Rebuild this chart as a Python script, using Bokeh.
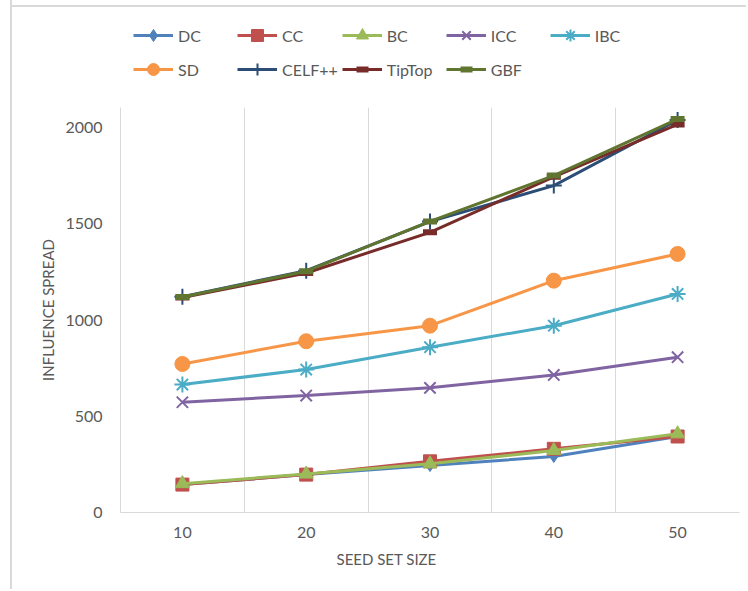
from bokeh.plotting import figure
from bokeh.layouts import column
from bokeh.models import FixedTicker, Legend, LegendItem, Range1d, Title
from bokeh.embed import file_html
from bokeh.resources import INLINE

# ---- data ----
seed_sizes = [10, 20, 30, 40, 50]
dc = [145, 197, 244, 291, 395]
cc = [145, 197, 266, 331, 395]
bc = [150, 200, 253, 322, 409]
icc = [573, 608, 648, 715, 807]
ibc = [665, 743, 859, 971, 1136]
sd = [772, 890, 971, 1205, 1344]
celf = [1122, 1257, 1512, 1699, 2040]
tiptop = [1117, 1245, 1456, 1745, 2017]
gbf = [1120, 1254, 1513, 1751, 2045]
y_ticks = [0, 500, 1000, 1500, 2000]
series_names = ["DC", "CC", "BC", "ICC", "IBC", "SD", "CELF++", "TipTop", "GBF"]
series_values = [dc, cc, bc, icc, ibc, sd, celf, tiptop, gbf]

# ---- styles ----
colors = ["#4F81BD", "#C0504D", "#9BBB59", "#8064A2", "#4BACC6",
          "#F79646", "#2C4D75", "#772C2A", "#5F7530"]
markers = ["diamond", "square", "triangle", "x", "asterisk",
           "circle", "cross", "dash", "dash"]
msizes = [12, 13, 14, 16, 16, 15, 16, 14, 14]
mlw = [1, 1, 1, 2, 2, 1, 2, 6, 6]
FONT = "Lato"
TXT = "#595959"
GRID = "#D9D9D9"
LEFT_LINE = "linear-gradient(#d9d9d9, #d9d9d9) 10px 0 / 2px 100% no-repeat"
TOP_LINE = "linear-gradient(#d9d9d9, #d9d9d9) 10px 5px / 100% 2px no-repeat"


def add_series(fig):
    items = []
    for name, vals, c, m, s, lw in zip(series_names, series_values, colors,
                                       markers, msizes, mlw):
        lr = fig.line(seed_sizes, vals, line_color=c, line_width=3)
        if m in ("x", "asterisk", "cross", "dash"):
            sr = fig.scatter(seed_sizes, vals, marker=m, size=s, line_color=c,
                             line_width=lw, fill_color=c)
        else:
            sr = fig.scatter(seed_sizes, vals, marker=m, size=s, line_color=c,
                             fill_color=c, line_width=1)
        items.append(LegendItem(label=name, renderers=[lr, sr]))
    return items


# ---- legend strip (top of chart area) ----
leg = figure(width=746, height=107, output_backend="svg", toolbar_location=None,
             x_range=Range1d(0, 1), y_range=Range1d(0, 1),
             x_axis_location=None, y_axis_location=None, min_border=0)
leg.grid.visible = False
leg.outline_line_color = None
leg.border_fill_color = None
leg.background_fill_color = None
leg.styles = {"background": LEFT_LINE + ", " + TOP_LINE + ", white"}
leg_items = add_series(leg)
legend = Legend(items=leg_items, ncols=5, orientation="horizontal", location=(13, 23),
                border_line_color=None, background_fill_alpha=0,
                label_text_font=FONT, label_text_font_size="16px",
                label_text_color=TXT, glyph_width=40, glyph_height=30,
                label_height=30, label_standoff=5, label_width=55, spacing=4,
                padding=0, margin=0)
leg.add_layout(legend, "center")

# ---- main plot ----
p = figure(width=746, height=482, output_backend="svg", toolbar_location=None,
           x_range=Range1d(5, 55), y_range=Range1d(0, 2105),
           min_border_left=120, min_border_right=7, min_border_top=0,
           min_border_bottom=77)
p.frame_width = 619
p.frame_height = 405
p.border_fill_color = None
p.background_fill_color = "white"
p.outline_line_color = None
p.styles = {"background": LEFT_LINE + ", white"}
add_series(p)

p.xaxis.ticker = FixedTicker(ticks=seed_sizes)
p.yaxis.ticker = FixedTicker(ticks=y_ticks)
p.xgrid.ticker = FixedTicker(ticks=[s + 5 for s in seed_sizes])
p.xgrid.grid_line_color = GRID
p.ygrid.visible = False
for ax in (p.xaxis[0], p.yaxis[0]):
    ax.major_tick_line_color = None
    ax.minor_tick_line_color = None
    ax.axis_line_color = GRID
    ax.major_label_text_font = FONT
    ax.major_label_text_font_size = "16px"
    ax.major_label_text_color = TXT
    ax.axis_label_text_font = FONT
    ax.axis_label_text_font_size = "15px"
    ax.axis_label_text_color = TXT
    ax.axis_label_text_font_style = "normal"
p.xaxis.major_label_standoff = 8
p.yaxis.major_label_standoff = 12
p.yaxis.axis_label = "INFLUENCE SPREAD"
p.yaxis.axis_label_standoff = 5

xtitle = Title(text="SEED SET SIZE", align="left", offset=216, standoff=14,
               text_font=FONT, text_font_size="15px", text_color=TXT,
               text_font_style="normal")
p.add_layout(xtitle, "below")

layout = column(leg, p, spacing=0)
open("out.html", "w").write(file_html(layout, INLINE))
